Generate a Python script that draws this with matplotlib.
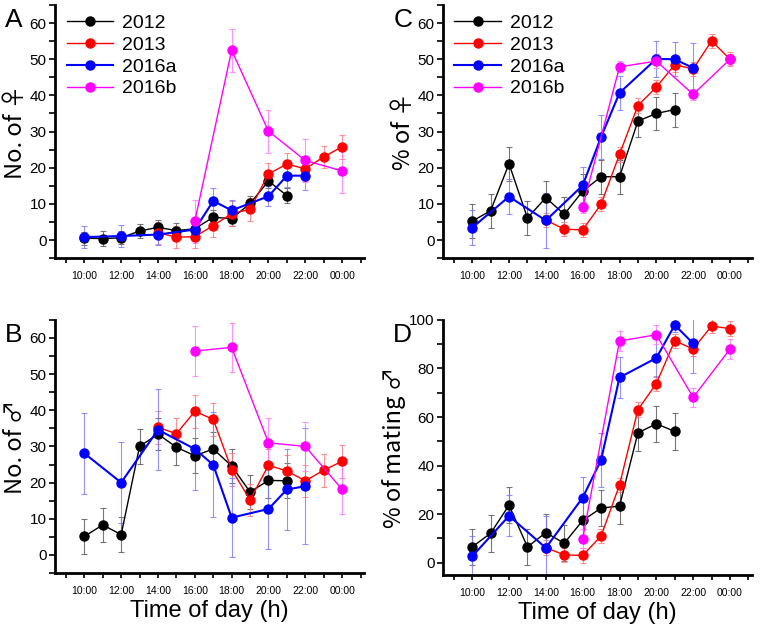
import numpy as np
import matplotlib
matplotlib.use("Agg")
import matplotlib.pyplot as plt
from matplotlib.ticker import MultipleLocator, FixedLocator

plt.rcParams['font.family'] = ['Liberation Sans', 'DejaVu Sans']

labels = ["2012", "2013", "2016a", "2016b"]
colors = ["#000000", "#ff0000", "#0000ff", "#ff00ff"]
ecolors = ["#555555", "#ff7777", "#7777ff", "#ff77ff"]

# hours (24 = 00:00)
h2012 = [10, 11, 12, 13, 14, 15, 16, 17, 18, 19, 20, 21]
h2013 = [14, 15, 16, 17, 18, 19, 20, 21, 22, 23, 24]
h2016a = [10, 12, 14, 16, 17, 18, 20, 21, 22]
h2016b = [16, 18, 20, 22, 24]

# Panel A: No. of females
A_2012 = [0.5, 0.4, 0.6, 2.5, 3.5, 2.6, 3.1, 6.3, 5.9, 10.1, 16.3, 12.3]
A_2012_err = [1.8, 2.0, 1.8, 2.0, 2.0, 2.0, 2.0, 2.0, 2.0, 2.0, 2.0, 2.0]
A_2013 = [2.0, 0.8, 0.9, 4.0, 7.3, 8.5, 18.3, 21.0, 19.7, 23.0, 25.8]
A_2013_err = [3.0, 3.0, 3.0, 3.2, 3.5, 3.2, 3.0, 3.0, 3.5, 3.0, 3.3]
A_2016a = [0.8, 1.1, 1.5, 2.9, 10.8, 8.2, 12.1, 17.8, 17.8]
A_2016a_err = [3.0, 3.0, 3.0, 3.0, 3.7, 3.0, 2.8, 3.0, 4.0]
A_2016b = [5.2, 52.5, 30.1, 22.0, 19.1]
A_2016b_err = [6.0, 6.0, 6.0, 6.0, 6.0]

# Panel B: No. of males
B_2012 = [5.1, 8.3, 5.6, 30.0, 33.4, 29.8, 27.4, 29.3, 24.6, 17.4, 20.6, 20.5]
B_2012_err = [4.8, 4.8, 4.8, 4.8, 4.5, 4.8, 4.8, 4.8, 4.8, 4.8, 4.8, 4.8]
B_2013 = [35.3, 33.5, 39.7, 37.5, 23.6, 15.2, 24.8, 23.2, 20.5, 23.4, 25.9]
B_2013_err = [4.5, 4.5, 4.5, 4.5, 4.5, 4.5, 4.5, 4.5, 4.5, 4.5, 4.5]
B_2016a = [28.1, 20.0, 34.6, 29.3, 24.9, 10.3, 12.7, 18.1, 19.0]
B_2016a_err = [11.2, 11.3, 11.2, 11.3, 14.5, 11.0, 11.0, 11.2, 16.0]
B_2016b = [56.4, 57.4, 31.0, 30.0, 18.1]
B_2016b_err = [6.8, 6.7, 6.8, 6.8, 6.8]

# Panel C: % of females
C_2012 = [5.2, 8.1, 21.1, 6.1, 11.7, 7.1, 13.5, 17.5, 17.5, 32.9, 35.0, 36.1]
C_2012_err = [4.7, 4.7, 4.7, 4.7, 4.7, 4.7, 4.7, 4.7, 4.7, 4.5, 4.7, 4.7]
C_2013 = [5.5, 3.0, 2.8, 9.9, 23.7, 37.2, 42.3, 48.5, 47.3, 55.1, 50.0]
C_2013_err = [2.0, 2.0, 2.0, 2.0, 2.0, 2.0, 2.0, 2.0, 2.0, 2.0, 2.0]
C_2016a = [3.4, 12.0, 5.4, 15.1, 28.5, 40.7, 50.1, 50.0, 47.6]
C_2016a_err = [4.8, 4.8, 7.6, 5.2, 6.2, 4.8, 4.9, 4.7, 6.9]
C_2016b = [9.1, 47.9, 49.5, 40.3, 50.0]
C_2016b_err = [1.5, 1.5, 2.0, 1.5, 1.5]

# Panel D: % of mating males
D_2012 = [6.5, 12.1, 23.7, 6.5, 12.4, 8.0, 17.4, 22.5, 23.3, 53.5, 57.2, 54.1]
D_2012_err = [7.5, 7.5, 7.5, 7.5, 7.5, 7.5, 7.5, 7.5, 7.5, 7.5, 7.5, 7.5]
D_2013 = [6.2, 3.2, 3.0, 11.0, 32.0, 63.0, 73.8, 91.4, 88.0, 97.5, 96.4]
D_2013_err = [3.0, 3.0, 3.0, 3.0, 3.0, 3.0, 3.0, 3.0, 3.0, 3.0, 3.0]
D_2016a = [2.6, 19.3, 6.1, 26.8, 42.3, 76.3, 84.3, 97.9, 90.3]
D_2016a_err = [8.5, 8.5, 13.0, 8.7, 11.0, 8.3, 8.0, 3.0, 12.0]
D_2016b = [9.9, 91.3, 93.9, 68.1, 88.0]
D_2016b_err = [4.0, 4.0, 4.0, 4.0, 4.0]

hours = [h2012, h2013, h2016a, h2016b]
xtick_pos = [10, 12, 14, 16, 18, 20, 22, 24]
xtick_labels = ["10:00", "12:00", "14:00", "16:00", "18:00", "20:00", "22:00", "00:00"]

panels = {
    "A": dict(pos=[0.072, 0.591, 0.406, 0.401], vals=[A_2012, A_2013, A_2016a, A_2016b],
              errs=[A_2012_err, A_2013_err, A_2016a_err, A_2016b_err],
              ylim=(-5, 65), ystep=10, ylabel="No. of \u2640", legend=True, xlabel=False),
    "C": dict(pos=[0.581, 0.591, 0.406, 0.401], vals=[C_2012, C_2013, C_2016a, C_2016b],
              errs=[C_2012_err, C_2013_err, C_2016a_err, C_2016b_err],
              ylim=(-5, 65), ystep=10, ylabel="% of \u2640", legend=True, xlabel=False),
    "B": dict(pos=[0.072, 0.092, 0.406, 0.401], vals=[B_2012, B_2013, B_2016a, B_2016b],
              errs=[B_2012_err, B_2013_err, B_2016a_err, B_2016b_err],
              ylim=(-5, 65), ystep=10, ylabel="No. of \u2642", legend=False, xlabel=True),
    "D": dict(pos=[0.581, 0.089, 0.406, 0.404], vals=[D_2012, D_2013, D_2016a, D_2016b],
              errs=[D_2012_err, D_2013_err, D_2016a_err, D_2016b_err],
              ylim=(-5, 100), ystep=20, ylabel="% of mating \u2642", legend=False, xlabel=True),
}

fig = plt.figure(figsize=(7.62, 6.31), dpi=100)

for letter, p in panels.items():
    ax = fig.add_axes(p["pos"])
    handles = []
    for i in range(4):
        lw = 1.5 if i == 2 else 1.0
        ax.errorbar(hours[i], p["vals"][i], yerr=p["errs"][i], fmt='none',
                    ecolor=ecolors[i], elinewidth=0.8, capsize=2.2, capthick=0.8,
                    alpha=0.8, zorder=2)
        ln, = ax.plot(hours[i], p["vals"][i], '-o', color=colors[i], lw=lw,
                      ms=6.5, mec=colors[i], zorder=3 + i, label=labels[i])
        handles.append(ln)
    ax.set_xlim(8.4, 25.2)
    ax.set_ylim(*p["ylim"])
    ax.set_yticks(np.arange(0, p["ylim"][1] + 0.1, p["ystep"]))
    ax.yaxis.set_minor_locator(MultipleLocator(p["ystep"] / 2))
    ax.set_xticks(xtick_pos)
    ax.set_xticklabels(xtick_labels, fontsize=7.5)
    ax.xaxis.set_minor_locator(FixedLocator(list(range(9, 26, 2))))
    ax.tick_params(axis='x', which='both', direction='out', length=3.5, width=1.2, pad=6)
    ax.tick_params(axis='y', which='both', direction='out', length=4, width=1.2, pad=2)
    ax.tick_params(axis='y', which='major', labelsize=11)
    for s in ["top", "right"]:
        ax.spines[s].set_visible(False)
    for s in ["left", "bottom"]:
        ax.spines[s].set_linewidth(2)
    ax.set_ylabel(p["ylabel"], fontsize=17, labelpad=2,
                  family=['Noto Sans CJK JP', 'DejaVu Sans'])
    if p["xlabel"]:
        ax.set_xlabel("Time of day (h)", fontsize=17, labelpad=3)
    if p["legend"]:
        ax.legend(handles=handles, loc='upper left', frameon=False, fontsize=14,
                  handlelength=2.4, handletextpad=0.45, labelspacing=0.22,
                  borderaxespad=0.2, bbox_to_anchor=(0.0, 1.01))
    bb = p["pos"]
    fig.text(bb[0] - 0.065, bb[1] + bb[3] - 0.005, letter, fontsize=19, va='top', ha='left')

fig.savefig("out.png", dpi=100)
